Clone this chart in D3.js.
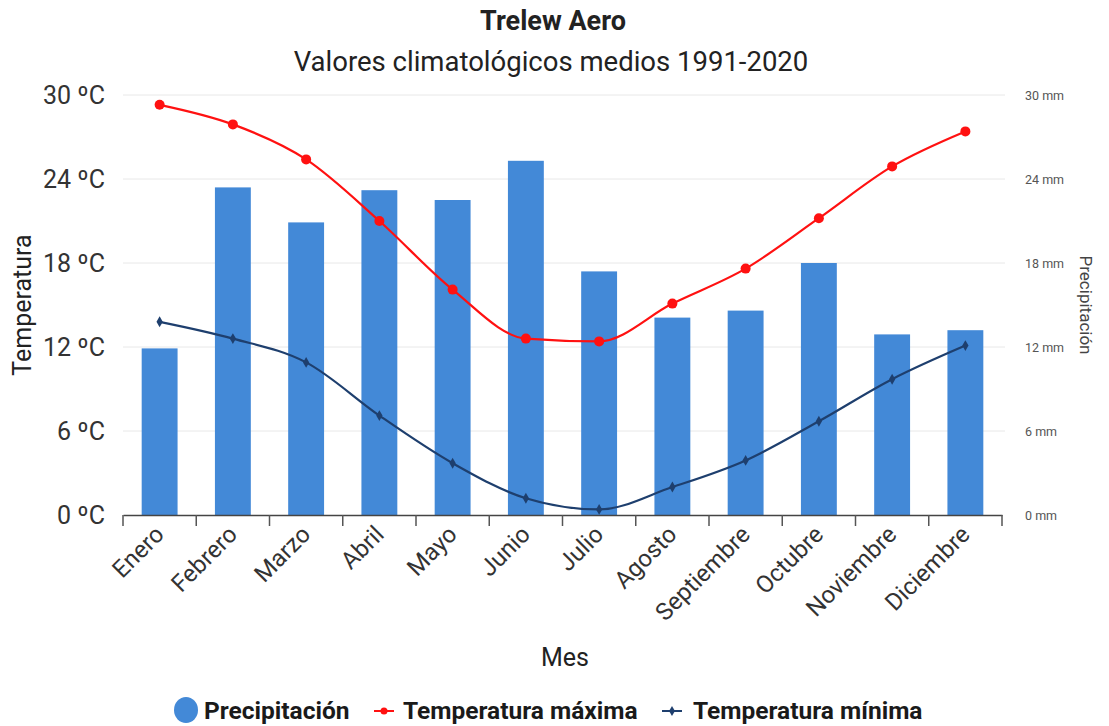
<!DOCTYPE html>
<html>
<head>
<meta charset="utf-8">
<script src="https://cdn.jsdelivr.net/npm/d3@7/dist/d3.min.js"></script>
<style>
  html, body { margin: 0; padding: 0; background: #fff; }
  svg { display: block; font-family: Roboto, "Noto Sans", sans-serif; }
</style>
</head>
<body>
<svg id="chart" width="1109" height="726"></svg>
<script>
// Trelew Aero — normales climatológicas 1991-2020
const meses = ["Enero", "Febrero", "Marzo", "Abril", "Mayo", "Junio", "Julio",
  "Agosto", "Septiembre", "Octubre", "Noviembre", "Diciembre"];
const precipitacion = [11.9, 23.4, 20.9, 23.2, 22.5, 25.3, 17.4, 14.1, 14.6, 18.0, 12.9, 13.2];
const tempMaxima = [29.3, 27.9, 25.4, 21.0, 16.1, 12.6, 12.4, 15.1, 17.6, 21.2, 24.9, 27.4];
const tempMinima = [13.8, 12.6, 10.9, 7.1, 3.7, 1.2, 0.4, 2.0, 3.9, 6.7, 9.7, 12.1];
const ticksTemp = [0, 6, 12, 18, 24, 30];
const ticksPrec = [0, 6, 12, 18, 24, 30];

const svg = d3.select("#chart");
const plotLeft = 123, plotRight = 1002, plotTop = 95, plotBottom = 515;

const x = d3.scaleBand().domain(meses).range([plotLeft, plotRight]).paddingInner(0).paddingOuter(0);
const yT = d3.scaleLinear().domain([0, 30]).range([plotBottom, plotTop]);
const yP = d3.scaleLinear().domain([0, 30]).range([plotBottom, plotTop]);
const cx = m => x(m) + x.bandwidth() / 2;

// Titles
svg.append("text").attr("x", 553).attr("y", 30).attr("text-anchor", "middle")
  .attr("font-size", 27).attr("font-weight", "bold").attr("fill", "#222").text("Trelew Aero");
svg.append("text").attr("x", 551).attr("y", 71).attr("text-anchor", "middle")
  .attr("font-size", 27.5).attr("fill", "#222").text("Valores climatológicos medios 1991-2020");

// Grid lines
svg.append("g").selectAll("line").data(ticksTemp.slice(1)).join("line")
  .attr("x1", plotLeft).attr("x2", plotRight + 3)
  .attr("y1", d => yT(d)).attr("y2", d => yT(d))
  .attr("stroke", "#e8e8e8").attr("stroke-width", 1);

// Left axis (temperature)
const axL = svg.append("g").attr("transform", `translate(${plotLeft},0)`)
  .call(d3.axisLeft(yT).tickValues(ticksTemp).tickSize(0).tickPadding(18).tickFormat(d => d + " ºC"));
axL.select(".domain").remove();
axL.selectAll("text").attr("font-size", 25).attr("fill", "#333").attr("font-family", "Roboto");

svg.append("text").attr("transform", "translate(31,305) rotate(-90)").attr("text-anchor", "middle")
  .attr("font-size", 25).attr("fill", "#222").text("Temperatura");

// Right axis (precipitation)
const axR = svg.append("g").attr("transform", `translate(${plotRight},0)`)
  .call(d3.axisRight(yP).tickValues(ticksPrec).tickSize(0).tickPadding(23).tickFormat(d => d + " mm"));
axR.select(".domain").remove();
axR.selectAll("text").attr("font-size", 12.5).attr("fill", "#555").attr("font-family", "Roboto");

svg.append("text").attr("transform", "translate(1080,305) rotate(90)").attr("text-anchor", "middle")
  .attr("font-size", 17).attr("fill", "#444").text("Precipitación");

// Bars
const barW = x.bandwidth() * 0.49;
svg.append("g").selectAll("rect").data(meses).join("rect")
  .attr("x", (m) => cx(m) - barW / 2)
  .attr("width", barW)
  .attr("y", (m, i) => yP(precipitacion[i]))
  .attr("height", (m, i) => plotBottom - yP(precipitacion[i]))
  .attr("fill", "#4389d7");

// Bottom axis
const axB = svg.append("g").attr("transform", `translate(0,${plotBottom})`)
  .call(d3.axisBottom(x).tickSize(0).tickPadding(0).tickFormat(""));
axB.select(".domain").attr("stroke", "#444").attr("stroke-width", 1.5);
axB.selectAll(".tick").remove();
const bounds = meses.map(m => x(m)).concat([plotRight]);
axB.selectAll("line.sep").data(bounds).join("line").attr("class", "sep")
  .attr("x1", d => d).attr("x2", d => d).attr("y1", 0).attr("y2", 11)
  .attr("stroke", "#555").attr("stroke-width", 1.5);

svg.append("g").selectAll("text").data(meses).join("text")
  .attr("transform", m => `translate(${cx(m) - 6},${plotBottom + 9}) rotate(-45)`)
  .attr("text-anchor", "end").attr("dy", "0.7em")
  .attr("font-size", 24).attr("fill", "#333").text(m => m);

svg.append("text").attr("x", 565).attr("y", 666).attr("text-anchor", "middle")
  .attr("font-size", 25).attr("fill", "#222").text("Mes");

// Lines
const line = d3.line().x((d, i) => cx(meses[i])).y(d => yT(d)).curve(d3.curveMonotoneX);

svg.append("path").datum(tempMaxima).attr("d", line)
  .attr("fill", "none").attr("stroke", "#ff1111").attr("stroke-width", 2.2);
svg.append("g").selectAll("circle").data(tempMaxima).join("circle")
  .attr("cx", (d, i) => cx(meses[i])).attr("cy", d => yT(d)).attr("r", 5)
  .attr("fill", "#ff1111");

svg.append("path").datum(tempMinima).attr("d", line)
  .attr("fill", "none").attr("stroke", "#1e3f6e").attr("stroke-width", 2.2);
const diamond = d3.symbol().type(d3.symbolDiamond).size(34);
svg.append("g").selectAll("path").data(tempMinima).join("path")
  .attr("transform", (d, i) => `translate(${cx(meses[i])},${yT(d)})`)
  .attr("d", diamond).attr("fill", "#1e3f6e");

// Legend
const lg = svg.append("g").attr("font-size", 24.5).attr("font-weight", "bold").attr("fill", "#1a1a1a");
lg.append("ellipse").attr("cx", 186).attr("cy", 710).attr("rx", 12).attr("ry", 13).attr("fill", "#4389d7");
lg.append("text").attr("x", 204).attr("y", 719).text("Precipitación");
lg.append("line").attr("x1", 374).attr("x2", 394).attr("y1", 711).attr("y2", 711)
  .attr("stroke", "#ff1111").attr("stroke-width", 2);
lg.append("circle").attr("cx", 384).attr("cy", 711).attr("r", 3.5).attr("fill", "#ff1111");
lg.append("text").attr("x", 403).attr("y", 719).text("Temperatura máxima");
lg.append("line").attr("x1", 662).attr("x2", 682).attr("y1", 711).attr("y2", 711)
  .attr("stroke", "#1e3f6e").attr("stroke-width", 2);
lg.append("path").attr("transform", "translate(672,711)").attr("d", d3.symbol().type(d3.symbolDiamond).size(30)).attr("fill", "#1e3f6e");
lg.append("text").attr("x", 693).attr("y", 719).text("Temperatura mínima");
</script>
</body>
</html>
